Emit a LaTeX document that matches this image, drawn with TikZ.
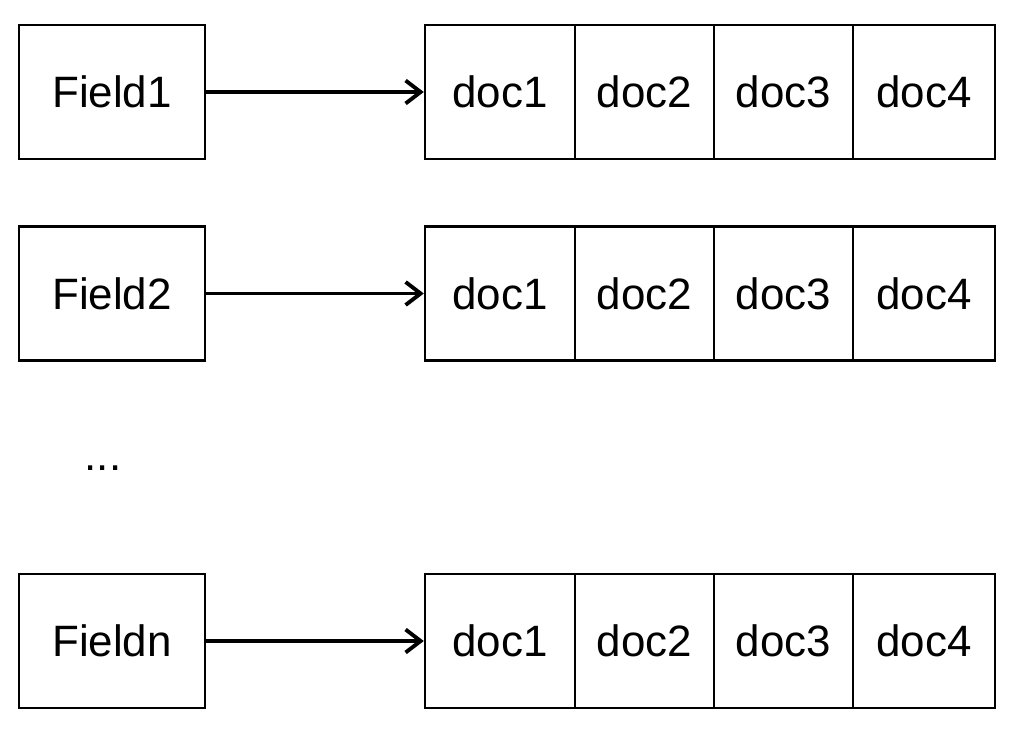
\documentclass[tikz,border=0pt]{standalone}
\usepackage{fontspec}
\setmainfont{Liberation Sans}
\usetikzlibrary{arrows.meta,positioning}
\tikzset{
every picture/.style={line join=miter},
cell font/.style={font=\fontsize{25}{30}\selectfont},
field box/.style={draw=black, line width=1.4pt, minimum width=3.72cm, minimum height=2.68cm, inner sep=0pt, cell font},
doc box/.style={draw=black, line width=1.4pt, minimum height=2.68cm, inner sep=0pt, cell font},
post arrow/.style={draw=black, line width=2.2pt, -{Straight Barb[length=3mm,width=4.6mm,line width=2.2pt]}}
}

\begin{document}
\begin{tikzpicture}[x=0.02cm,y=-0.02cm]
\useasboundingbox (0,0) rectangle (1010,734);
% one row per field: name box, arrow, posting list
\foreach \r/\y/\lab in {1/92/Field1, 2/293.5/Field2, n/641/Fieldn}{
  \node[field box] (f\r) at (112,\y) {\lab};
  \node[doc box, minimum width=3.00cm] (d\r1) at (500,\y) {doc1};
  \node[doc box, minimum width=2.78cm] (d\r2) at (644.5,\y) {doc2};
  \node[doc box, minimum width=2.78cm] (d\r3) at (783.5,\y) {doc3};
  \node[doc box, minimum width=2.84cm] (d\r4) at (924,\y) {doc4};
  \draw[post arrow] (f\r.east) -- (d\r1.west);
}
\node[cell font] (dots) at (103,468) {...};
\end{tikzpicture}
\end{document}
